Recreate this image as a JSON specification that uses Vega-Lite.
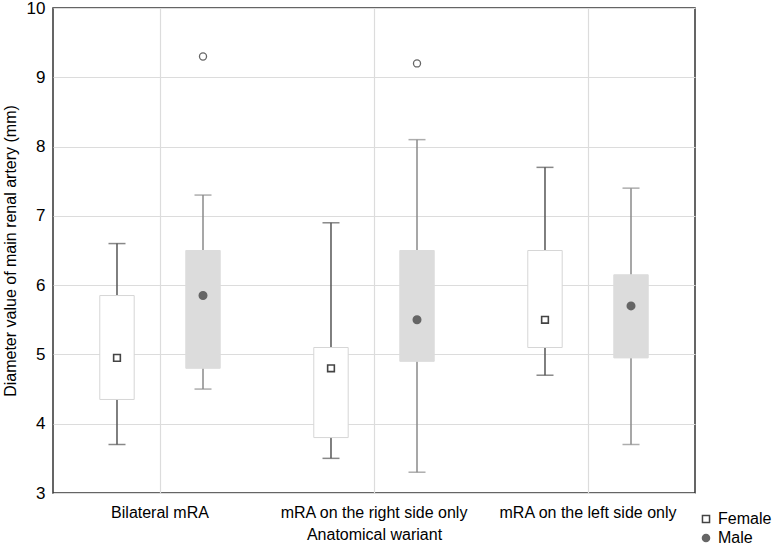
{
  "$schema": "https://vega.github.io/schema/vega-lite/v6.json",
  "width": 642,
  "height": 485,
  "autosize": {"type": "none"},
  "padding": {"left": 53, "top": 8, "right": 79, "bottom": 54},
  "background": "white",
  "config": {
    "font": "Liberation Sans",
    "view": {"stroke": "#333333", "strokeWidth": 1.5},
    "axis": {"gridColor": "#dcdcdc", "gridWidth": 1.2, "domain": false, "ticks": false, "labelColor": "#000", "titleColor": "#000", "titleFontWeight": "normal", "labelLimit": 400}
  },
  "datasets": {
    "boxes": [
      {"group": "Bilateral  mRA", "sex": "Female", "lower": 3.7, "q1": 4.35, "mean": 4.95, "q3": 5.85, "upper": 6.6},
      {"group": "Bilateral  mRA", "sex": "Male", "lower": 4.5, "q1": 4.8, "mean": 5.85, "q3": 6.5, "upper": 7.3},
      {"group": "mRA on the right side only", "sex": "Female", "lower": 3.5, "q1": 3.8, "mean": 4.8, "q3": 5.1, "upper": 6.9},
      {"group": "mRA on the right side only", "sex": "Male", "lower": 3.3, "q1": 4.9, "mean": 5.5, "q3": 6.5, "upper": 8.1},
      {"group": "mRA on the left side only", "sex": "Female", "lower": 4.7, "q1": 5.1, "mean": 5.5, "q3": 6.5, "upper": 7.7},
      {"group": "mRA on the left side only", "sex": "Male", "lower": 3.7, "q1": 4.95, "mean": 5.7, "q3": 6.15, "upper": 7.4}
    ],
    "outliers": [
      {"group": "Bilateral  mRA", "sex": "Male", "value": 9.3},
      {"group": "mRA on the right side only", "sex": "Male", "value": 9.2}
    ]
  },
  "encoding": {
    "x": {
      "field": "group", "type": "nominal",
      "sort": ["Bilateral  mRA", "mRA on the right side only", "mRA on the left side only"],
      "scale": {"paddingInner": 0, "paddingOuter": 0},
      "axis": {"title": "Anatomical wariant", "labelAngle": 0, "labelFontSize": 16, "labelPadding": 11, "labelLimit": 400, "titleFontSize": 16, "titlePadding": 6, "grid": true}
    },
    "xOffset": {
      "field": "sex", "type": "nominal",
      "scale": {"domain": ["Female", "Male"], "paddingInner": 0.6, "paddingOuter": 0.544}
    }
  },
  "layer": [
    {
      "data": {"name": "boxes"},
      "mark": {"type": "rule", "strokeWidth": 1.5},
      "encoding": {
        "y": {"field": "lower", "type": "quantitative", "scale": {"domain": [3, 10], "nice": false, "zero": false},
          "axis": {"title": "Diameter value of main renal artery (mm)", "values": [3,4,5,6,7,8,9,10], "labelFontSize": 17, "labelPadding": 8, "titleFontSize": 16, "titlePadding": 8, "grid": true}},
        "y2": {"field": "upper"},
        "color": {"condition": {"test": "datum.sex == 'Female'", "value": "#555555"}, "value": "#8a8a8a"}
      }
    },
    {
      "data": {"name": "boxes"},
      "mark": {"type": "tick", "thickness": 1.5, "size": 17},
      "encoding": {
        "y": {"field": "lower", "type": "quantitative",
          "axis": {"title": "Diameter value of main renal artery (mm)", "values": [3,4,5,6,7,8,9,10], "labelFontSize": 17, "labelPadding": 8, "titleFontSize": 16, "titlePadding": 8, "grid": true}},
        "color": {"condition": {"test": "datum.sex == 'Female'", "value": "#555555"}, "value": "#8a8a8a"}
      }
    },
    {
      "data": {"name": "boxes"},
      "mark": {"type": "tick", "thickness": 1.5, "size": 17},
      "encoding": {
        "y": {"field": "upper", "type": "quantitative",
          "axis": {"title": "Diameter value of main renal artery (mm)", "values": [3,4,5,6,7,8,9,10], "labelFontSize": 17, "labelPadding": 8, "titleFontSize": 16, "titlePadding": 8, "grid": true}},
        "color": {"condition": {"test": "datum.sex == 'Female'", "value": "#555555"}, "value": "#8a8a8a"}
      }
    },
    {
      "data": {"name": "boxes"},
      "mark": {"type": "bar", "strokeWidth": 1},
      "encoding": {
        "y": {"field": "q1", "type": "quantitative",
          "axis": {"title": "Diameter value of main renal artery (mm)", "values": [3,4,5,6,7,8,9,10], "labelFontSize": 17, "labelPadding": 8, "titleFontSize": 16, "titlePadding": 8, "grid": true}},
        "y2": {"field": "q3"},
        "fill": {"condition": {"test": "datum.sex == 'Female'", "value": "#ffffff"}, "value": "#dcdcdc"},
        "stroke": {"condition": {"test": "datum.sex == 'Female'", "value": "#d6d6d6"}, "value": "#dcdcdc"}
      }
    },
    {
      "data": {"name": "boxes"},
      "mark": {"type": "point", "filled": false, "strokeWidth": 1.6, "opacity": 1},
      "encoding": {
        "y": {"field": "mean", "type": "quantitative",
          "axis": {"title": "Diameter value of main renal artery (mm)", "values": [3,4,5,6,7,8,9,10], "labelFontSize": 17, "labelPadding": 8, "titleFontSize": 16, "titlePadding": 8, "grid": true}},
        "shape": {"field": "sex", "type": "nominal", "scale": {"domain": ["Female", "Male"], "range": ["square", "circle"]},
          "legend": {"title": null, "orient": "none", "legendX": 645, "legendY": 503, "labelFontSize": 16, "labelColor": "#000", "symbolSize": 50, "rowPadding": 3, "labelOffset": 4}},
        "fill": {"field": "sex", "type": "nominal", "scale": {"domain": ["Female", "Male"], "range": ["#ffffff", "#666666"]}},
        "stroke": {"field": "sex", "type": "nominal", "scale": {"domain": ["Female", "Male"], "range": ["#444444", "#666666"]}},
        "size": {"condition": {"test": "datum.sex == 'Female'", "value": 45}, "value": 55}
      }
    },
    {
      "data": {"name": "outliers"},
      "mark": {"type": "point", "shape": "circle", "filled": false, "fill": "white", "stroke": "#666666", "strokeWidth": 1.3, "size": 50, "opacity": 1},
      "encoding": {
        "y": {"field": "value", "type": "quantitative",
          "axis": {"title": "Diameter value of main renal artery (mm)", "values": [3,4,5,6,7,8,9,10], "labelFontSize": 17, "labelPadding": 8, "titleFontSize": 16, "titlePadding": 8, "grid": true}}
      }
    }
  ]
}
